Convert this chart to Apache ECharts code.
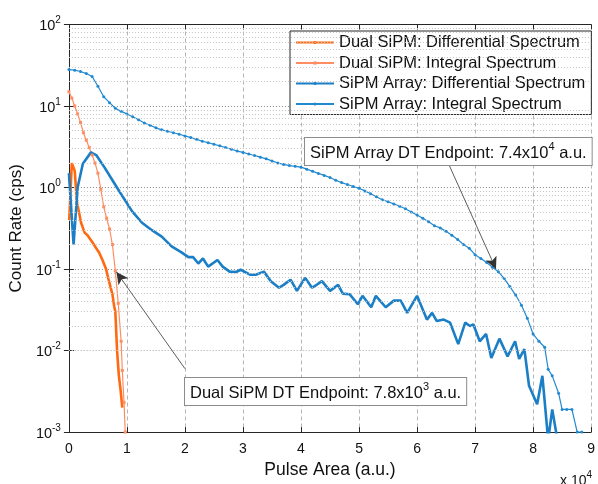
<!DOCTYPE html>
<html>
<head>
<meta charset="utf-8">
<script src="https://cdn.jsdelivr.net/npm/echarts@6/dist/echarts.min.js"></script>
<style>
  html, body { margin: 0; padding: 0; background: #fff; }
  #chart { width: 598px; height: 484px; }
</style>
</head>
<body>
<div id="chart"></div>
<script>
// pulse area in units of 1e4 a.u., count rate in cps
const dualDiff = [
  [0.005, 0.4], [0.05, 2.0], [0.1, 1.6], [0.14, 0.65], [0.21, 0.37], [0.27, 0.28],
  [0.32, 0.26], [0.41, 0.21], [0.47, 0.18], [0.52, 0.16], [0.58, 0.128], [0.64, 0.10],
  [0.69, 0.071], [0.75, 0.049], [0.78, 0.035], [0.8, 0.03], [0.83, 0.01], [0.86, 0.005],
  [0.89, 0.0033], [0.92, 0.002]
];
const dualInt = [
  [0, 15], [0.05, 12.5], [0.1, 10], [0.15, 8], [0.2, 6.3], [0.25, 4.7], [0.3, 3.8],
  [0.35, 3.1], [0.4, 2.5], [0.45, 2.0], [0.5, 1.5], [0.55, 0.95], [0.6, 0.58],
  [0.65, 0.42], [0.7, 0.31], [0.75, 0.2], [0.8, 0.095], [0.85, 0.038], [0.9, 0.013],
  [0.92, 0.0057], [0.95, 0.0023], [0.97, 0.001]
];
const arrayDiff = [
  [0.0, 1.5], [0.08, 0.2], [0.15, 1.0], [0.24, 1.96], [0.38, 2.7], [0.47, 2.5], [0.61, 1.78],
  [0.75, 1.23], [0.89, 0.85], [1.09, 0.51], [1.26, 0.37], [1.43, 0.30], [1.6, 0.25],
  [1.77, 0.19], [1.94, 0.16], [2.06, 0.14], [2.14, 0.14], [2.23, 0.117], [2.31, 0.135],
  [2.40, 0.107], [2.56, 0.129], [2.65, 0.107], [2.77, 0.093], [2.88, 0.092], [2.96, 0.098],
  [3.13, 0.085], [3.22, 0.085], [3.36, 0.093], [3.48, 0.071], [3.62, 0.059], [3.70, 0.064],
  [3.82, 0.074], [3.93, 0.054], [4.07, 0.078], [4.19, 0.059], [4.24, 0.062], [4.36, 0.071],
  [4.50, 0.054], [4.64, 0.064], [4.72, 0.050], [4.84, 0.049], [4.98, 0.037], [5.06, 0.047],
  [5.21, 0.034], [5.29, 0.047], [5.46, 0.034], [5.60, 0.041], [5.72, 0.041], [5.83, 0.029],
  [6.00, 0.047], [6.17, 0.024], [6.26, 0.029], [6.34, 0.023], [6.46, 0.024], [6.57, 0.022],
  [6.71, 0.012], [6.83, 0.022], [6.91, 0.020], [6.97, 0.021], [7.08, 0.013], [7.19, 0.016],
  [7.28, 0.0081], [7.42, 0.014], [7.56, 0.0085], [7.69, 0.013], [7.76, 0.0079], [7.85, 0.0104],
  [7.93, 0.0037], [8.07, 0.0022], [8.16, 0.0049], [8.26, 0.0008], [8.33, 0.0019], [8.42, 0.0008]
];
const arrayInt = [
  [0.0, 28], [0.1, 27.5], [0.2, 26.5], [0.3, 25], [0.4, 23], [0.5, 17.5], [0.6, 13], [0.7, 11],
  [0.8, 9.4], [0.9, 8.6], [1.0, 8.0], [1.1, 7.4], [1.2, 6.8], [1.3, 6.2], [1.4, 5.8], [1.5, 5.4],
  [1.6, 5.1], [1.7, 4.9], [1.8, 4.7], [1.9, 4.5], [2.0, 4.3], [2.1, 4.1], [2.2, 3.9], [2.3, 3.7],
  [2.4, 3.55], [2.5, 3.4], [2.6, 3.25], [2.7, 3.1], [2.8, 2.95], [2.9, 2.8], [3.0, 2.7],
  [3.1, 2.58], [3.2, 2.47], [3.3, 2.36], [3.4, 2.25], [3.5, 2.12], [3.6, 2.0], [3.7, 1.92],
  [3.8, 1.86], [3.9, 1.82], [4.0, 1.78], [4.1, 1.68], [4.2, 1.58], [4.3, 1.49], [4.4, 1.41],
  [4.5, 1.33], [4.6, 1.23], [4.7, 1.15], [4.8, 1.09], [4.9, 1.03], [5.0, 0.98], [5.1, 0.91],
  [5.2, 0.84], [5.3, 0.77], [5.4, 0.71], [5.5, 0.67], [5.6, 0.63], [5.7, 0.59], [5.8, 0.55],
  [5.9, 0.5], [6.0, 0.46], [6.1, 0.42], [6.2, 0.38], [6.3, 0.34], [6.4, 0.32], [6.5, 0.29],
  [6.6, 0.26], [6.7, 0.23], [6.8, 0.2], [6.9, 0.18], [7.0, 0.15], [7.1, 0.135], [7.2, 0.12],
  [7.3, 0.105], [7.4, 0.093], [7.5, 0.077], [7.6, 0.061], [7.7, 0.048], [7.8, 0.036],
  [7.9, 0.025], [8.0, 0.016], [8.1, 0.013], [8.2, 0.011], [8.26, 0.0059], [8.33, 0.0049],
  [8.44, 0.003], [8.5, 0.0019], [8.58, 0.0019], [8.67, 0.0019], [8.76, 0.001], [8.84, 0.001]
];
const seriesNames = [
  "Dual SiPM: Differential Spectrum",
  "Dual SiPM: Integral Spectrum",
  "SiPM Array: Differential Spectrum",
  "SiPM Array: Integral Spectrum"
];
const decades = [-3, -2, -1, 0, 1];

const FONT = "Liberation Sans, Arial, Helvetica, sans-serif";
const AXIS = "#262626";

// minor log grid lines (2..9 x each decade)
let minorLines = [];
decades.forEach(function (d) {
  for (let k = 2; k <= 9; k++) minorLines.push({ yAxis: k * Math.pow(10, d) });
});

function supText(main, sup, size, supSize, lh) {
  return {
    text: "{t|" + main[0] + "}{s|" + sup + "}{t|" + (main[1] || "") + "}",
    rich: {
      t: { fontSize: size, fill: "#111", fontFamily: FONT, lineHeight: lh, verticalAlign: "bottom" },
      s: { fontSize: supSize, fill: "#111", fontFamily: FONT, lineHeight: lh, verticalAlign: "top" }
    }
  };
}

let chart = echarts.init(document.getElementById("chart"));
let box1 = supText(["SiPM Array DT Endpoint: 7.4x10", " a.u."], "4", 16.5, 11, 21);
let box2 = supText(["Dual SiPM DT Endpoint: 7.8x10", " a.u."], "3", 16.5, 11, 21);
let xExp = supText(["x 10", ""], "4", 14, 10, 18);
[box1, box2].forEach(function (b) {
  b.backgroundColor = "#fff";
  b.borderColor = "#8c8c8c";
  b.borderWidth = 1;
  b.padding = [3, 5, 3, 5];
});

let option = {
  animation: false,
  backgroundColor: "#fff",
  textStyle: { fontFamily: FONT },
  grid: { left: 66, right: 3, top: 24.5, bottom: 43 },
  legend: {
    data: seriesNames,
    orient: "vertical",
    left: 290,
    top: 31,
    itemWidth: 38,
    itemHeight: 4,
    itemGap: 3.5,
    padding: [3, 6, 2, 5],
    backgroundColor: "#fff",
    borderColor: AXIS,
    borderWidth: 1,
    borderRadius: 0,
    textStyle: { fontSize: 16.5, color: "#111", fontFamily: FONT }
  },
  xAxis: [
    {
      type: "value",
      min: 0,
      max: 9,
      interval: 1,
      name: "Pulse Area (a.u.)",
      nameLocation: "middle",
      nameGap: 18,
      nameTextStyle: { fontSize: 17.5, color: "#111" },
      axisLine: { lineStyle: { color: AXIS, width: 1 } },
      axisTick: { inside: true, length: 5, lineStyle: { color: AXIS } },
      axisLabel: { fontSize: 14, color: "#111", margin: 10 },
      splitLine: { show: true, lineStyle: { color: "#b5b5b5", type: [4, 3], width: 1 } }
    },
    {
      type: "value",
      min: 0,
      max: 9,
      interval: 1,
      position: "top",
      axisLine: { lineStyle: { color: AXIS, width: 1 } },
      axisTick: { inside: true, length: 5, lineStyle: { color: AXIS } },
      axisLabel: { show: false },
      splitLine: { show: false }
    }
  ],
  yAxis: [
    {
      type: "log",
      logBase: 10,
      min: 0.001,
      max: 100,
      name: "Count Rate (cps)",
      nameLocation: "middle",
      nameGap: 36,
      nameTextStyle: { fontSize: 17, color: "#111" },
      axisLine: { show: true, lineStyle: { color: AXIS, width: 1 } },
      axisTick: { inside: true, length: 5, lineStyle: { color: AXIS } },
      axisLabel: {
        margin: 8,
        formatter: function (v) {
          let e = Math.round(Math.log10(v));
          return "{b|10}{s|" + e + "}";
        },
        rich: {
          b: { fontSize: 14.5, color: "#111", fontFamily: FONT, lineHeight: 18, verticalAlign: "bottom" },
          s: { fontSize: 10, color: "#111", fontFamily: FONT, lineHeight: 18, verticalAlign: "top" }
        }
      },
      splitLine: { show: true, lineStyle: { color: "#8a8a8a", type: [1, 2], width: 1 } }
    },
    {
      type: "log",
      logBase: 10,
      min: 0.001,
      max: 100,
      position: "right",
      axisLine: { show: true, lineStyle: { color: AXIS, width: 1 } },
      axisTick: { inside: true, length: 5, lineStyle: { color: AXIS } },
      axisLabel: { show: false },
      splitLine: { show: false }
    }
  ],
  series: [
    {
      name: "grid",
      type: "line",
      data: [],
      z: 1,
      silent: true,
      markLine: {
        silent: true,
        symbol: ["none", "none"],
        label: { show: false },
        lineStyle: { color: "#c4c4c4", type: [1, 2], width: 1 },
        data: minorLines
      }
    },
    {
      name: seriesNames[0],
      type: "line",
      data: dualDiff,
      symbol: "circle",
      showSymbol: false,
      z: 3,
      lineStyle: { color: "#ff6a10", width: 2.6 },
      itemStyle: { color: "#ff6a10" }
    },
    {
      name: seriesNames[1],
      type: "line",
      data: dualInt,
      symbol: "rect",
      symbolSize: 3,
      z: 3,
      lineStyle: { color: "#ff8d62", width: 1.2 },
      itemStyle: { color: "#ff8d62" },
      markLine: {
        silent: true,
        symbol: ["none", "arrow"],
        symbolSize: [9, 12],
        label: { show: false },
        lineStyle: { color: "#333", type: "solid", width: 0.8 },
        data: [[{ coord: [2.0, 0.006] }, { coord: [0.82, 0.092] }]]
      }
    },
    {
      name: seriesNames[2],
      type: "line",
      data: arrayDiff,
      symbol: "circle",
      showSymbol: false,
      z: 3,
      lineStyle: { color: "#1a7fc6", width: 2.6 },
      itemStyle: { color: "#1a7fc6" }
    },
    {
      name: seriesNames[3],
      type: "line",
      data: arrayInt,
      symbol: "circle",
      symbolSize: 3,
      z: 3,
      lineStyle: { color: "#2189d0", width: 1.2 },
      itemStyle: { color: "#2189d0" },
      markLine: {
        silent: true,
        symbol: ["none", "arrow"],
        symbolSize: [9, 12],
        label: { show: false },
        lineStyle: { color: "#333", type: "solid", width: 0.8 },
        data: [[{ coord: [6.53, 2.05] }, { coord: [7.36, 0.1] }]]
      }
    }
  ],
  graphic: [
    { type: "text", left: 304, top: 137, z: 10, style: box1 },
    { type: "text", left: 184, top: 377, z: 10, style: box2 },
    { type: "text", left: 560, top: 470, style: xExp }
  ]
};
chart.setOption(option);
</script>
</body>
</html>
